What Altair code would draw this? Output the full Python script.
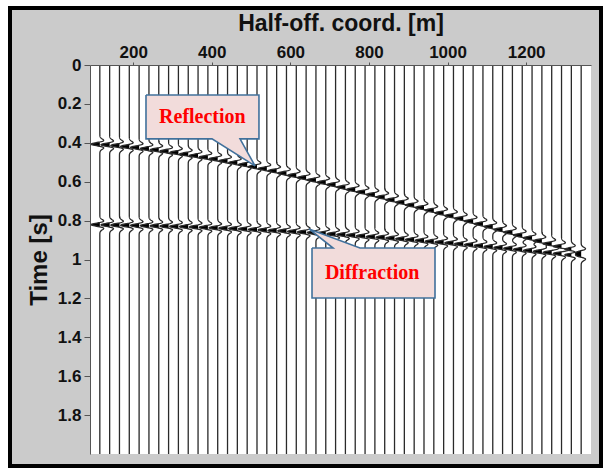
import altair as alt
import numpy as np
import pandas as pd

# ---------------- data ----------------
half_offsets = [115, 140, 165, 190, 215, 240, 265, 290, 315, 340,
                365, 390, 415, 440, 465, 490, 515, 540, 565, 590,
                615, 640, 665, 690, 715, 740, 765, 790, 815, 840,
                865, 890, 915, 940, 965, 990, 1015, 1040, 1065, 1090,
                1115, 1140, 1165, 1190, 1215, 1240, 1265, 1290, 1315, 1340]

reflection_t = [0.407, 0.410, 0.414, 0.419, 0.424, 0.430, 0.436, 0.443, 0.450, 0.458,
                0.466, 0.474, 0.483, 0.493, 0.502, 0.512, 0.523, 0.533, 0.544, 0.556,
                0.567, 0.579, 0.591, 0.603, 0.615, 0.628, 0.640, 0.653, 0.666, 0.679,
                0.693, 0.706, 0.720, 0.733, 0.747, 0.761, 0.775, 0.789, 0.803, 0.817,
                0.831, 0.846, 0.860, 0.875, 0.889, 0.904, 0.919, 0.933, 0.948, 0.963]

diffraction_t = [0.821, 0.822, 0.823, 0.824, 0.825, 0.826, 0.827, 0.828, 0.830, 0.831,
                 0.833, 0.835, 0.837, 0.839, 0.841, 0.843, 0.846, 0.848, 0.851, 0.853,
                 0.856, 0.859, 0.862, 0.865, 0.869, 0.872, 0.875, 0.879, 0.883, 0.886,
                 0.890, 0.894, 0.898, 0.902, 0.907, 0.911, 0.915, 0.920, 0.924, 0.929,
                 0.934, 0.939, 0.943, 0.948, 0.954, 0.959, 0.964, 0.969, 0.975, 0.980]

x_ticks = [200, 400, 600, 800, 1000, 1200]
y_ticks = [0, 0.2, 0.4, 0.6, 0.8, 1.0, 1.2, 1.4, 1.6, 1.8]

callout_labels = ["Reflection", "Diffraction"]
callout_text_x = [376, 808]
callout_text_t = [0.267, 1.069]
refl_poly_x = [232.5, 520, 520, 471.8, 510, 400.5, 232.5, 232.5]
refl_poly_t = [0.154, 0.154, 0.380, 0.380, 0.519, 0.380, 0.380, 0.154]
diff_poly_x = [655, 708.5, 647.4, 777, 968, 968, 655, 655]
diff_poly_t = [0.941, 0.941, 0.843, 0.941, 0.941, 1.198, 1.198, 0.941]

# ---------------- wiggle traces ----------------
FREQ = 20.0
WIGGLE = 22.0  # metres of deflection for unit amplitude


def ricker(t):
    a = (np.pi * FREQ * t) ** 2
    return (1 - 2 * a) * np.exp(-a)


rows = []
for k, h in enumerate(half_offsets):
    arrivals = [reflection_t[k], diffraction_t[k]]
    ts = {0.0, 2.0}
    for ta in arrivals:
        for t in np.arange(ta - 0.055, ta + 0.055 + 1e-9, 0.0015):
            ts.add(round(float(t), 5))
    for t in sorted(ts):
        a = sum(ricker(t - ta) for ta in arrivals)
        dx = -WIGGLE * a
        rows.append({"trace": k, "t": t, "x": h + dx, "base": h,
                     "xfill": h + min(dx, 0.0)})
traces = pd.DataFrame(rows)

poly_rows = []
for name, xs_, ts_ in [("r", refl_poly_x, refl_poly_t), ("d", diff_poly_x, diff_poly_t)]:
    for i, (xv, tv) in enumerate(zip(xs_, ts_)):
        poly_rows.append({"shape": name, "i": i, "x": xv, "t": tv})
polys = pd.DataFrame(poly_rows)

labels = pd.DataFrame({"label": callout_labels, "x": callout_text_x, "t": callout_text_t})

# ---------------- chart ----------------
W, H = 501, 389
xs = alt.Scale(domain=[90, 1365], nice=False, zero=False)
ys = alt.Scale(domain=[0, 2.0], nice=False, zero=False, reverse=True)

FONT = "Liberation Sans"

x_axis = alt.Axis(orient="top", values=x_ticks, format="d", title="Half-off. coord. [m]",
                  titleFont=FONT, titleFontSize=23, titleFontWeight="bold", titleColor="#111",
                  titlePadding=8, labelFont=FONT, labelFontSize=17, labelFontWeight="bold",
                  labelColor="#111", labelPadding=1, tickSize=3, tickColor="#555",
                  domainColor="#555", grid=False, labelFlush=False, zindex=1)
y_axis = alt.Axis(values=y_ticks, format="~g", title="Time [s]",
                  titleFont=FONT, titleFontSize=24, titleFontWeight="bold", titleColor="#111",
                  titlePadding=6, labelFont=FONT, labelFontSize=17, labelFontWeight="bold",
                  labelColor="#111", labelPadding=3, tickSize=6, tickColor="#555",
                  domainColor="#555", grid=False, labelFlush=False, zindex=1)

frame = alt.Chart(pd.DataFrame({"a": [0]})).mark_rect(
    fill="#cbcbcb", stroke="#000", strokeWidth=4).encode(
    x=alt.value(-80), x2=alt.value(W + 10), y=alt.value(-57), y2=alt.value(H + 12))

plotbg = alt.Chart(pd.DataFrame({"a": [0]})).mark_rect(fill="white").encode(
    x=alt.value(0), x2=alt.value(W), y=alt.value(0), y2=alt.value(H))

fill = alt.Chart(traces).mark_area(orient="horizontal", color="#000", opacity=1).encode(
    y=alt.Y("t:Q", scale=ys, axis=y_axis),
    x=alt.X("base:Q", scale=xs, axis=x_axis),
    x2="xfill:Q",
    detail="trace:N",
)

lines = alt.Chart(traces).mark_line(color="#2a2a2a", strokeWidth=1.3).encode(
    y=alt.Y("t:Q", scale=ys),
    x=alt.X("x:Q", scale=xs),
    detail="trace:N",
    order="t:Q",
)

callouts = alt.Chart(polys).mark_line(
    fill="#f2dcdb", stroke="#41719c", strokeWidth=1.6, strokeJoin="miter").encode(
    x=alt.X("x:Q", scale=xs),
    y=alt.Y("t:Q", scale=ys),
    detail="shape:N",
    order="i:Q",
)

texts = alt.Chart(labels).mark_text(
    font="Liberation Serif", fontWeight="bold", fontSize=20, color="#ff0000",
    align="center", baseline="middle").encode(
    x=alt.X("x:Q", scale=xs),
    y=alt.Y("t:Q", scale=ys),
    text="label:N",
)

chart = alt.layer(frame, plotbg, fill, lines, callouts, texts).properties(
    width=W, height=H,
    padding={"left": 90, "top": 65, "right": 12, "bottom": 16},
    autosize=alt.AutoSizeParams(type="none"),
    background="white",
).configure_view(stroke=None)

chart.save("out.html", embed_options={"renderer": "svg", "actions": False})
